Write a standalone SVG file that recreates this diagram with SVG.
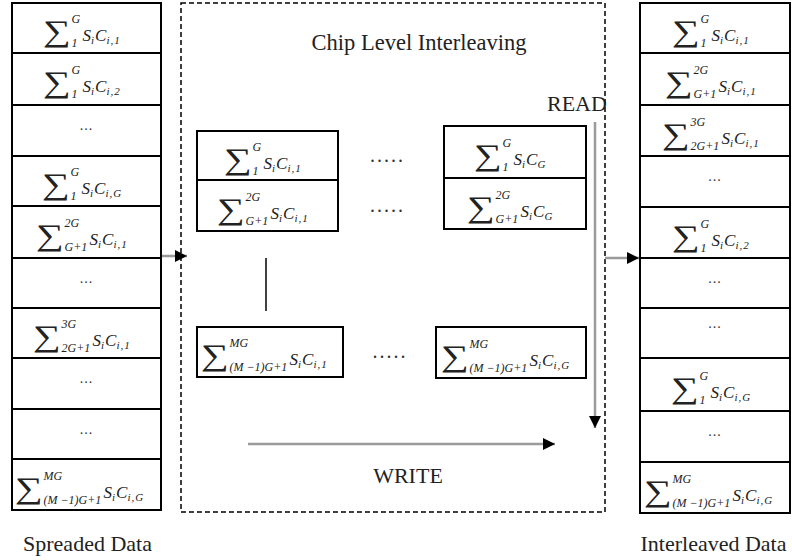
<svg xmlns="http://www.w3.org/2000/svg" width="792" height="560" viewBox="0 0 792 560">
<defs>
<style>
.cell { fill: #fff; stroke: #000; stroke-width: 2; }
.box { fill: #fff; stroke: #000; stroke-width: 2; }
.dash { fill: none; stroke: #000; stroke-width: 1.5; stroke-dasharray: 5 3; }
.sig { font-family: "Liberation Serif", "DejaVu Serif", serif; font-size: 30px; fill: #222; }
.lim { font-family: "Liberation Serif", serif; font-style: italic; font-size: 12px; fill: #222; }
.m { font-family: "Liberation Serif", serif; font-style: italic; font-size: 17px; fill: #222; }
.sb { font-size: 11px; letter-spacing: 1px; }
.dots { font-family: "Liberation Serif", serif; font-size: 14px; letter-spacing: 1px; text-anchor: middle; fill: #333; }
.bdots { font-family: "Liberation Serif", serif; font-size: 20px; letter-spacing: 2px; text-anchor: middle; fill: #333; }
.lbl { font-family: "Liberation Serif", serif; font-size: 22px; fill: #222; }
.arr { stroke: #9a9a9a; stroke-width: 2.5; fill: none; marker-end: url(#ah); }
</style>
<marker id="ah" viewBox="0 0 12 12" refX="12" refY="6" markerWidth="12" markerHeight="12" markerUnits="userSpaceOnUse" orient="auto">
<path d="M0,0 L12,6 L0,12 Z" fill="#000"/>
</marker>
</defs>
<rect width="792" height="560" fill="#fff"/>

<!-- Chip level interleaving dashed box -->
<g id="interleaver">
<rect class="dash" x="181" y="3" width="424" height="509"/>
<text class="lbl" x="419" y="50" text-anchor="middle" style="font-size:22.5px">Chip Level Interleaving</text>
<text class="lbl" x="547" y="111">READ</text>
<text class="lbl" x="408" y="483" text-anchor="middle">WRITE</text>
</g>

<!-- Left column: Spreaded Data -->
<g id="spreaded">
<g id="L1"><rect class="cell" x="12" y="3" width="149" height="50"/>
<g transform="translate(43,28)"><text class="sig" transform="scale(1.3,1)" y="13">∑</text><text class="lim" x="28.5" y="-5">G</text><text class="lim" x="28.5" y="19">1</text><text class="m" x="39.5" y="13">S<tspan class="sb" dy="3">i</tspan><tspan dy="-3">C</tspan><tspan class="sb" dy="3">i,1</tspan></text></g></g>
<g id="L2"><rect class="cell" x="12" y="53" width="149" height="52"/>
<g transform="translate(43,79)"><text class="sig" transform="scale(1.3,1)" y="13">∑</text><text class="lim" x="28.5" y="-5">G</text><text class="lim" x="28.5" y="19">1</text><text class="m" x="39.5" y="13">S<tspan class="sb" dy="3">i</tspan><tspan dy="-3">C</tspan><tspan class="sb" dy="3">i,2</tspan></text></g></g>
<g id="L3"><rect class="cell" x="12" y="105" width="149" height="51"/><text class="dots" x="86.5" y="130">...</text></g>
<g id="L4"><rect class="cell" x="12" y="156" width="149" height="50"/>
<g transform="translate(42,181)"><text class="sig" transform="scale(1.3,1)" y="13">∑</text><text class="lim" x="28.5" y="-5">G</text><text class="lim" x="28.5" y="19">1</text><text class="m" x="39.5" y="13">S<tspan class="sb" dy="3">i</tspan><tspan dy="-3">C</tspan><tspan class="sb" dy="3">i,G</tspan></text></g></g>
<g id="L5"><rect class="cell" x="12" y="206" width="149" height="52"/>
<g transform="translate(36,232)"><text class="sig" transform="scale(1.3,1)" y="13">∑</text><text class="lim" x="28.5" y="-5">2G</text><text class="lim" x="28.5" y="19">G+1</text><text class="m" x="53.5" y="13">S<tspan class="sb" dy="3">i</tspan><tspan dy="-3">C</tspan><tspan class="sb" dy="3">i,1</tspan></text></g></g>
<g id="L6"><rect class="cell" x="12" y="258" width="149" height="50"/><text class="dots" x="86.5" y="283">...</text></g>
<g id="L7"><rect class="cell" x="12" y="308" width="149" height="50"/>
<g transform="translate(33,333)"><text class="sig" transform="scale(1.3,1)" y="13">∑</text><text class="lim" x="28.5" y="-5">3G</text><text class="lim" x="28.5" y="19">2G+1</text><text class="m" x="59.5" y="13">S<tspan class="sb" dy="3">i</tspan><tspan dy="-3">C</tspan><tspan class="sb" dy="3">i,1</tspan></text></g></g>
<g id="L8"><rect class="cell" x="12" y="358" width="149" height="51"/><text class="dots" x="86.5" y="383">...</text></g>
<g id="L9"><rect class="cell" x="12" y="409" width="149" height="50"/><text class="dots" x="86.5" y="434">...</text></g>
<g id="L10"><rect class="cell" x="12" y="459" width="149" height="51"/>
<g transform="translate(15,484.5)"><text class="sig" transform="scale(1.3,1)" y="13">∑</text><text class="lim" x="28.5" y="-5">MG</text><text class="lim" x="28.5" y="19">(M −1)G+1</text><text class="m" x="88.5" y="13">S<tspan class="sb" dy="3">i</tspan><tspan dy="-3">C</tspan><tspan class="sb" dy="3">i,G</tspan></text></g></g>
<text class="lbl" x="87.5" y="551" text-anchor="middle">Spreaded Data</text>
</g>

<!-- Middle matrix -->
<g id="boxA">
<rect class="box" x="197" y="131" width="141" height="49"/>
<rect class="box" x="197" y="180" width="141" height="51"/>
<g transform="translate(224,155.5)"><text class="sig" transform="scale(1.3,1)" y="13">∑</text><text class="lim" x="28.5" y="-5">G</text><text class="lim" x="28.5" y="19">1</text><text class="m" x="39.5" y="13">S<tspan class="sb" dy="3">i</tspan><tspan dy="-3">C</tspan><tspan class="sb" dy="3">i,1</tspan></text></g>
<g transform="translate(217,205.5)"><text class="sig" transform="scale(1.3,1)" y="13">∑</text><text class="lim" x="28.5" y="-5">2G</text><text class="lim" x="28.5" y="19">G+1</text><text class="m" x="53.5" y="13">S<tspan class="sb" dy="3">i</tspan><tspan dy="-3">C</tspan><tspan class="sb" dy="3">i,1</tspan></text></g>
</g>
<g id="boxB">
<rect class="box" x="444" y="126" width="142" height="52"/>
<rect class="box" x="444" y="178" width="142" height="51"/>
<g transform="translate(474,152)"><text class="sig" transform="scale(1.3,1)" y="13">∑</text><text class="lim" x="28.5" y="-5">G</text><text class="lim" x="28.5" y="19">1</text><text class="m" x="39.5" y="13">S<tspan class="sb" dy="3">i</tspan><tspan dy="-3">C</tspan><tspan class="sb" dy="3">G</tspan></text></g>
<g transform="translate(467,203.5)"><text class="sig" transform="scale(1.3,1)" y="13">∑</text><text class="lim" x="28.5" y="-5">2G</text><text class="lim" x="28.5" y="19">G+1</text><text class="m" x="53.5" y="13">S<tspan class="sb" dy="3">i</tspan><tspan dy="-3">C</tspan><tspan class="sb" dy="3">G</tspan></text></g>
</g>
<g id="boxC">
<rect class="box" x="197" y="327" width="146" height="50"/>
<g transform="translate(201,352)"><text class="sig" transform="scale(1.3,1)" y="13">∑</text><text class="lim" x="28.5" y="-5">MG</text><text class="lim" x="28.5" y="19">(M −1)G+1</text><text class="m" x="88.5" y="13">S<tspan class="sb" dy="3">i</tspan><tspan dy="-3">C</tspan><tspan class="sb" dy="3">i,1</tspan></text></g>
</g>
<g id="boxD">
<rect class="box" x="436" y="327" width="150" height="51"/>
<g transform="translate(441,352.5)"><text class="sig" transform="scale(1.3,1)" y="13">∑</text><text class="lim" x="28.5" y="-5">MG</text><text class="lim" x="28.5" y="19">(M −1)G+1</text><text class="m" x="88.5" y="13">S<tspan class="sb" dy="3">i</tspan><tspan dy="-3">C</tspan><tspan class="sb" dy="3">i,G</tspan></text></g>
</g>
<g id="middots">
<text class="bdots" x="387.5" y="162">.....</text>
<text class="bdots" x="387.5" y="212">.....</text>
<text class="bdots" x="390" y="358">.....</text>
</g>

<!-- Right column: Interleaved Data -->
<g id="interleaved">
<g id="R1"><rect class="cell" x="640" y="3" width="150" height="50"/>
<g transform="translate(672,28)"><text class="sig" transform="scale(1.3,1)" y="13">∑</text><text class="lim" x="28.5" y="-5">G</text><text class="lim" x="28.5" y="19">1</text><text class="m" x="39.5" y="13">S<tspan class="sb" dy="3">i</tspan><tspan dy="-3">C</tspan><tspan class="sb" dy="3">i,1</tspan></text></g></g>
<g id="R2"><rect class="cell" x="640" y="53" width="150" height="52"/>
<g transform="translate(665,79)"><text class="sig" transform="scale(1.3,1)" y="13">∑</text><text class="lim" x="28.5" y="-5">2G</text><text class="lim" x="28.5" y="19">G+1</text><text class="m" x="53.5" y="13">S<tspan class="sb" dy="3">i</tspan><tspan dy="-3">C</tspan><tspan class="sb" dy="3">i,1</tspan></text></g></g>
<g id="R3"><rect class="cell" x="640" y="105" width="150" height="51"/>
<g transform="translate(662,130.5)"><text class="sig" transform="scale(1.3,1)" y="13">∑</text><text class="lim" x="28.5" y="-5">3G</text><text class="lim" x="28.5" y="19">2G+1</text><text class="m" x="59.5" y="13">S<tspan class="sb" dy="3">i</tspan><tspan dy="-3">C</tspan><tspan class="sb" dy="3">i,1</tspan></text></g></g>
<g id="R4"><rect class="cell" x="640" y="156" width="150" height="51"/><text class="dots" x="715" y="181">...</text></g>
<g id="R5"><rect class="cell" x="640" y="207" width="150" height="51"/>
<g transform="translate(672,232.5)"><text class="sig" transform="scale(1.3,1)" y="13">∑</text><text class="lim" x="28.5" y="-5">G</text><text class="lim" x="28.5" y="19">1</text><text class="m" x="39.5" y="13">S<tspan class="sb" dy="3">i</tspan><tspan dy="-3">C</tspan><tspan class="sb" dy="3">i,2</tspan></text></g></g>
<g id="R6"><rect class="cell" x="640" y="258" width="150" height="50"/><text class="dots" x="715" y="283">...</text></g>
<g id="R7"><rect class="cell" x="640" y="308" width="150" height="50"/><text class="dots" x="715" y="328">...</text></g>
<g id="R8"><rect class="cell" x="640" y="358" width="150" height="53"/>
<g transform="translate(671,384.5)"><text class="sig" transform="scale(1.3,1)" y="13">∑</text><text class="lim" x="28.5" y="-5">G</text><text class="lim" x="28.5" y="19">1</text><text class="m" x="39.5" y="13">S<tspan class="sb" dy="3">i</tspan><tspan dy="-3">C</tspan><tspan class="sb" dy="3">i,G</tspan></text></g></g>
<g id="R9"><rect class="cell" x="640" y="411" width="150" height="51"/><text class="dots" x="715" y="436">...</text></g>
<g id="R10"><rect class="cell" x="640" y="462" width="150" height="51"/>
<g transform="translate(644,487.5)"><text class="sig" transform="scale(1.3,1)" y="13">∑</text><text class="lim" x="28.5" y="-5">MG</text><text class="lim" x="28.5" y="19">(M −1)G+1</text><text class="m" x="88.5" y="13">S<tspan class="sb" dy="3">i</tspan><tspan dy="-3">C</tspan><tspan class="sb" dy="3">i,G</tspan></text></g></g>
<text class="lbl" x="713.5" y="551" text-anchor="middle">Interleaved Data</text>
</g>

<!-- Connectors -->
<g id="connectors">
<line class="arr" x1="162" y1="256" x2="187" y2="256"/>
<line class="arr" x1="605" y1="258" x2="639" y2="258"/>
<line class="arr" x1="595" y1="122" x2="595" y2="428"/>
<line class="arr" x1="248" y1="444" x2="555" y2="444"/>
<line x1="266" y1="258" x2="266" y2="311" stroke="#000" stroke-width="1.5"/>
</g>
</svg>
